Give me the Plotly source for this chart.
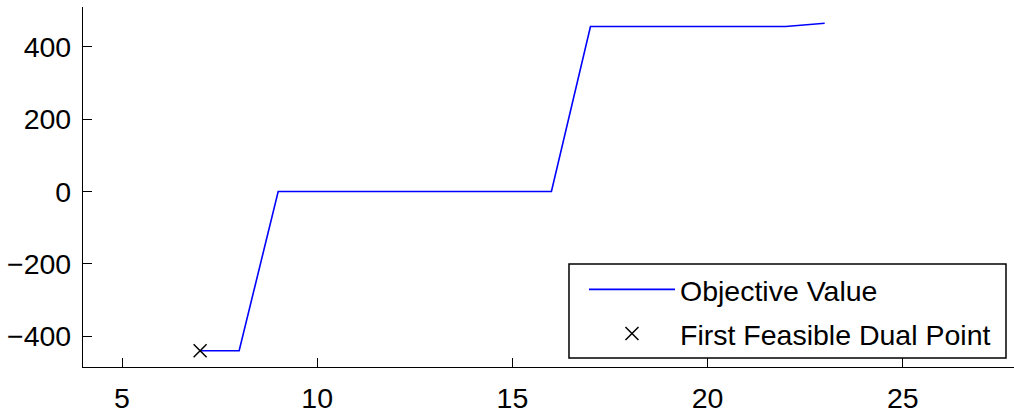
import plotly.graph_objects as go

# Objective value per iteration
iterations = [7, 8, 9, 10, 11, 12, 13, 14, 15, 16, 17, 18, 19, 20, 21, 22, 23]
objective = [-440, -440, 0, 0, 0, 0, 0, 0, 0, 0, 456, 456, 456, 456, 456, 456, 465]

# First feasible dual point
feasible_x = [7]
feasible_y = [-440]

x_ticks = [5, 10, 15, 20, 25]
y_ticks = [-400, -200, 0, 200, 400]
y_tick_text = ["\u2212400", "\u2212200", "0", "200", "400"]

FONT = "Liberation Sans, Arial, Helvetica, sans-serif"
FONT_SIZE = 28.5

fig = go.Figure()
fig.add_trace(go.Scatter(
    x=iterations, y=objective, mode="lines",
    line=dict(color="#0000ff", width=1.6),
    name="Objective Value", legendgroup="obj",
))
fig.add_trace(go.Scatter(
    x=feasible_x, y=feasible_y, mode="markers",
    marker=dict(symbol="x-thin", size=13, line=dict(color="black", width=1.5), color="black"),
    name="First Feasible Dual Point", legendgroup="feas",
))

axis_common = dict(
    showline=True, linecolor="black", linewidth=1.2,
    ticks="inside", ticklen=9, tickwidth=1.2, tickcolor="black",
    showgrid=False, zeroline=False, mirror=False, automargin=False,
    tickfont=dict(family=FONT, size=FONT_SIZE, color="black"),
)

# Framed legend box (the legend itself is drawn transparent on top of it)
fig.add_shape(
    type="rect", xref="paper", yref="paper",
    x0=0.5220, x1=0.9914, y0=0.025, y1=0.2861,
    fillcolor="white", line=dict(color="black", width=1.5), layer="above",
)

fig.update_layout(
    width=1014, height=415,
    margin=dict(l=83, r=0, t=7, b=48),
    paper_bgcolor="white", plot_bgcolor="white",
    showlegend=True,
    legend=dict(
        x=0.5381, y=0.285, xanchor="left", yanchor="top",
        bgcolor="rgba(0,0,0,0)", borderwidth=0,
        font=dict(family=FONT, size=FONT_SIZE, color="black"),
        itemwidth=86, tracegroupgap=4,
    ),
    xaxis=dict(range=[4, 27.85], tickvals=x_ticks, ticklabelstandoff=6, **axis_common),
    yaxis=dict(range=[-485, 510], tickvals=y_ticks, ticktext=y_tick_text,
               ticklabelstandoff=5, **axis_common),
)

fig.write_html("out.html")
